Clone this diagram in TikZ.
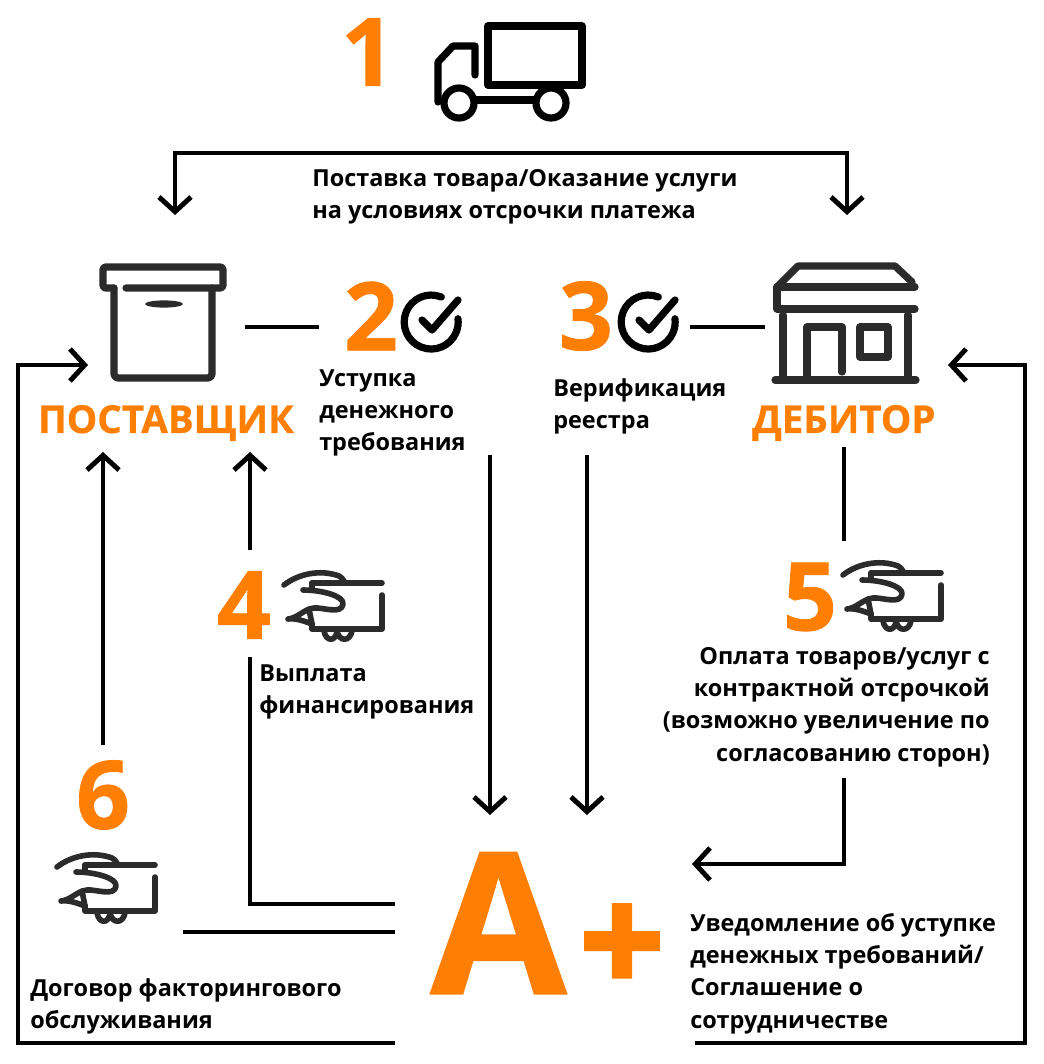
\documentclass[tikz,border=0pt]{standalone}
\usepackage{fontspec}
\setmainfont{Open Sans}
\newfontfamily\heavyfont[BoldFeatures={FakeBold=0.8}]{Open Sans}
\newfontfamily\plusfont[BoldFeatures={FakeBold=3}]{Open Sans}
\usetikzlibrary{arrows.meta}
\definecolor{acorange}{HTML}{FF7F05}
\definecolor{icondark}{HTML}{2B2B2B}
\begin{document}
\begin{tikzpicture}[x=0.75pt,y=-0.75pt,>={Straight Barb[length=11pt,width=24pt,line width=3.7pt]}]
	\tikzset{
		line/.style={line width=3.7pt},
		icon/.style={line width=5.4pt,line cap=round,line join=round},
		thinicon/.style={icon,icondark,line width=4.2pt},
		caption/.style={inner sep=0pt,text=black,font=\fontsize{17.6}{24.2}\selectfont\bfseries},
		number/.style={inner sep=0pt,text=acorange,font=\fontsize{71}{71}\selectfont\heavyfont\bfseries},
		party/.style={inner sep=0pt,text=acorange,font=\fontsize{28.8}{32}\selectfont\heavyfont\bfseries},
		truck/.pic={
			\draw[icon,black] (488,26) rectangle (582,85);
			\draw[icon,black] (475,75)--(475,46)--(453,46)--(438,62)--(438,102);
			\draw[icon,black] (474,100)--(536,100);
			\draw[icon,black] (459,103) circle[radius=15];
			\draw[icon,black] (551,103) circle[radius=15];
		},
		storebox/.pic={
			\draw[icon,icondark,rounded corners=2pt] (114,288)--(103,288)--(103,267)--(223,267)--(223,288)--(126,288);
			\draw[icon,icondark,rounded corners=3pt] (114,288)--(114,378)--(212,378)--(212,288);
			\fill[icondark] (164,304) ellipse[x radius=19,y radius=3.6];
		},
		shop/.pic={
			\draw[icon,icondark] (777,287)--(798,266)--(895,266)--(912,282);
			\draw[icon,icondark] (777,287)--(915,287);
			\draw[icon,icondark] (777,287)--(777,309)--(915,309);
			\draw[icon,icondark] (783,315)--(783,378);
			\draw[icon,icondark] (908,315)--(908,378);
			\draw[icon,icondark] (775,380)--(916,380);
			\draw[icon,icondark] (807,378)--(807,327)--(842,327)--(842,372);
			\draw[icon,icondark] (860,327) rectangle (888,357);
		},
		tick/.pic={
			\draw[icon,black] (10.3,-25) arc[start angle=-68,end angle=-367,radius=27];
			\draw[icon,black] (-9,-2)--(1,8)--(27,-22);
		},
		hand/.pic={
			\draw[thinicon] (0,0)--(70,0);
			\draw[thinicon] (70,12)--(70,46)--(0,46)--(0,41);
			\draw[thinicon] (0,0)--(0,6);
			\draw[thinicon] (-28,2) .. controls (-14,-9) and (8,-14) .. (27,-7) .. controls (29,-6) and (31,-4) .. (32,-2);
			\draw[thinicon] (-9,7) .. controls (10,7) and (32,13) .. (31,21) .. controls (30,32) and (10,24) .. (2,25) .. controls (-8,26) and (-14,35) .. (-24,36) .. controls (-16,35) and (-8,38) .. (0,41);
			\draw[thinicon] (-3,26)--(0,41);
			\draw[thinicon] (12,48) .. controls (14,59) and (24,59) .. (25,48) .. controls (27,59) and (38,59) .. (40,48);
		}
	}
	\useasboundingbox (0,0) rectangle (1044,1064);
	% icons
	\pic (truckicon) at (0,0) {truck};
	\pic (suppliericon) at (0,0) {storebox};
	\pic (debtoricon) at (0,0) {shop};
	\pic (tick2) at (431,322) {tick};
	\pic (tick3) at (648,322) {tick};
	\pic (hand4) at (312,583) {hand};
	\pic (hand5) at (871,573) {hand};
	\pic (hand6) at (85,865) {hand};
	% numbers
	\node[number] (n1) at (368,52) {1};
	\node[number] (n2) at (371,316) {2};
	\node[number] (n3) at (586,316) {3};
	\node[number] (n4) at (244,605) {4};
	\node[number] (n5) at (810,597) {5};
	\node[number] (n6) at (103,795) {6};
	% labels
	\node[party] (supplier) at (166,423) {ПОСТАВЩИК};
	\node[party] (debtor) at (844,423) {ДЕБИТОР};
	\node[inner sep=0pt,text=acorange,font=\fontsize{148}{148}\selectfont\heavyfont\bfseries] (aplusa) at (498.5,923) {A};
	\node[inner sep=0pt,text=acorange,font=\fontsize{110}{110}\selectfont\plusfont\bfseries] (aplusb) at (622,949) {+};
	\node[caption,anchor=north west,align=left] (t1) at (312,169) {Поставка товара/Оказание услуги\\на условиях отсрочки платежа};
	\node[caption,anchor=north west,align=left] (t2) at (319,369) {Уступка\\денежного\\требования};
	\node[caption,anchor=north west,align=left] (t3) at (553,378) {Верификация\\реестра};
	\node[caption,anchor=north west,align=left] (t4) at (259,664) {Выплата\\финансирования};
	\node[caption,anchor=north east,align=right] (t5) at (990,647) {Оплата товаров/услуг с\\контрактной отсрочкой\\(возможно увеличение по\\согласованию сторон)};
	\node[caption,anchor=north west,align=left] (t6) at (30,978) {Договор факторингового\\обслуживания};
	\node[caption,anchor=north west,align=left] (t7) at (690,913) {Уведомление об уступке\\денежных требований/\\Соглашение о\\сотрудничестве};
	% connectors
	\coordinate (c1l) at (175,215);
	\coordinate (c1t) at (511,153);
	\coordinate (c1r) at (847,215);
	\draw[line,<->] (c1l)|-(c1t)-|(c1r);
	\coordinate (c2a) at (245,327);
	\coordinate (c2b) at (319,327);
	\draw[line] (c2a)--(c2b);
	\coordinate (c3a) at (690,327);
	\coordinate (c3b) at (765,327);
	\draw[line] (c3a)--(c3b);
	\coordinate (c2d) at (490,455);
	\coordinate (c2e) at (490,815);
	\draw[line,->] (c2d)--(c2e);
	\coordinate (c3d) at (587,455);
	\coordinate (c3e) at (587,815);
	\draw[line,->] (c3d)--(c3e);
	\coordinate (c4a) at (395,904);
	\coordinate (c4b) at (250,657);
	\draw[line] (c4a)-|(c4b);
	\coordinate (c4c) at (250,550);
	\coordinate (c4d) at (250,452);
	\draw[line,->] (c4c)--(c4d);
	\coordinate (c5a) at (844,447);
	\coordinate (c5b) at (844,541);
	\draw[line] (c5a)--(c5b);
	\coordinate (c5c) at (844,778);
	\coordinate (c5d) at (692,864);
	\draw[line,->] (c5c)|-(c5d);
	\coordinate (c6a) at (183,932);
	\coordinate (c6b) at (395,932);
	\draw[line] (c6a)--(c6b);
	\coordinate (c6c) at (103,745);
	\coordinate (c6d) at (103,452);
	\draw[line,->] (c6c)--(c6d);
	\coordinate (c7a) at (395,1043);
	\coordinate (c7b) at (18,1043);
	\coordinate (c7c) at (18,365);
	\coordinate (c7d) at (88,365);
	\draw[line,->] (c7a)--(c7b)--(c7c)--(c7d);
	\coordinate (c8a) at (695,1043);
	\coordinate (c8b) at (1025,1043);
	\coordinate (c8c) at (1025,365);
	\coordinate (c8d) at (948,365);
	\draw[line,->] (c8a)--(c8b)--(c8c)--(c8d);
\end{tikzpicture}
\end{document}
